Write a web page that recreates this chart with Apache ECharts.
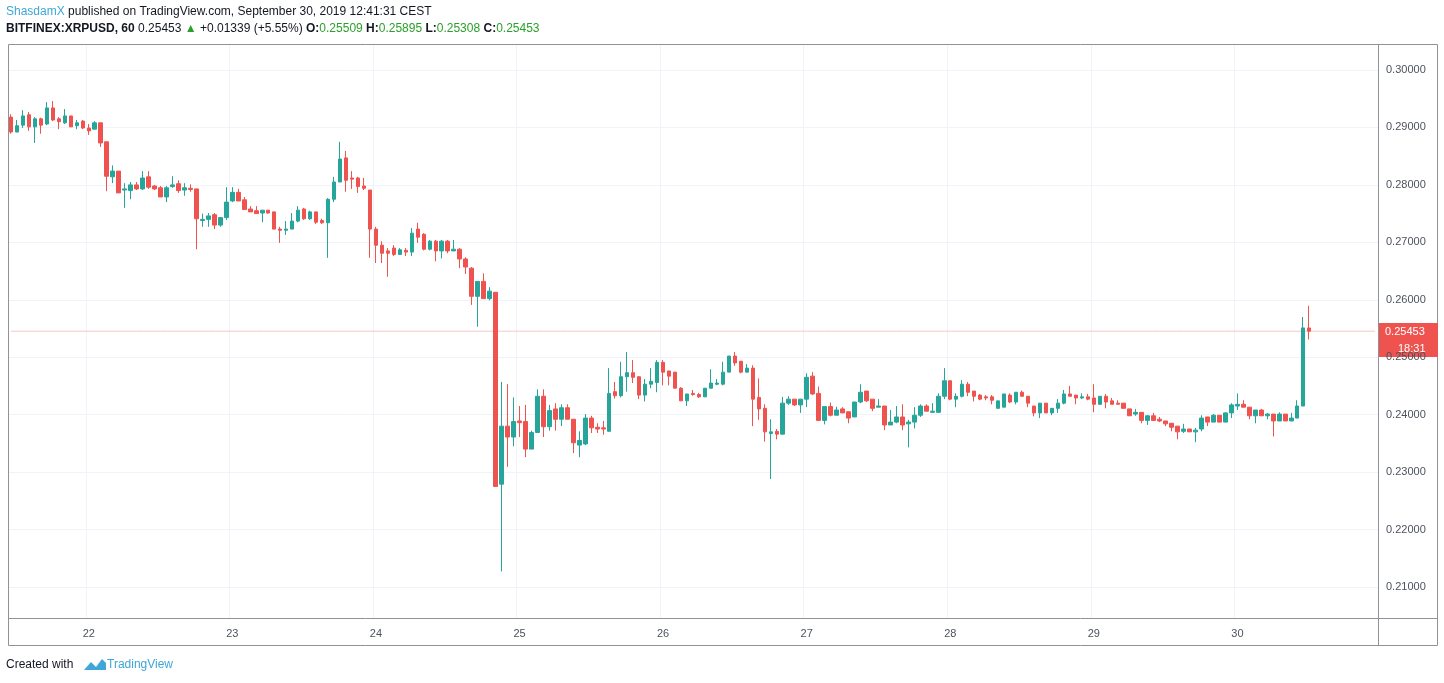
<!DOCTYPE html>
<html><head><meta charset="utf-8">
<script src="https://cdn.jsdelivr.net/npm/echarts@6/dist/echarts.min.js"></script>
<style>html,body{margin:0;padding:0;background:#fff}#c{width:1444px;height:683px}</style>
</head><body><div id="c"></div>
<script>
const opens=[.2918,.2892,.2904,.2922,.2901,.2915,.2906,.2934,.2915,.2908,.2920,.2903,.2911,.2899,.2897,.2908,.2875,.2814,.2824,.2791,.2790,.2800,.2793,.2814,.2798,.2795,.2779,.2797,.2802,.2791,.2794,.2793,.2738,.2740,.2748,.2730,.2743,.2772,.2787,.2774,.2758,.2755,.2751,.2756,.2753,.2723,.2721,.2723,.2737,.2758,.2741,.2753,.2738,.2734,.2775,.2805,.2847,.2812,.2812,.2798,.2791,.2723,.2695,.2685,.2690,.2679,.2686,.2683,.2723,.2714,.2688,.2702,.2685,.2702,.2685,.2688,.2671,.2655,.2606,.2632,.2602,.2613,.2279,.2380,.2361,.2389,.2388,.2340,.2369,.2432,.2379,.2410,.2392,.2412,.2392,.2347,.2349,.2394,.2378,.2377,.2371,.2440,.2433,.2466,.2473,.2466,.2434,.2453,.2456,.2491,.2476,.2474,.2446,.2424,.2437,.2435,.2431,.2446,.2453,.2453,.2474,.2502,.2493,.2474,.2481,.2430,.2411,.2367,.2371,.2366,.2420,.2427,.2417,.2427,.2467,.2437,.2390,.2414,.2399,.2410,.2405,.2396,.2422,.2441,.2427,.2413,.2415,.2382,.2387,.2396,.2384,.2387,.2399,.2415,.2404,.2404,.2432,.2459,.2427,.2432,.2453,.2441,.2434,.2431,.2431,.2411,.2413,.2434,.2422,.2439,.2432,.2415,.2403,.2420,.2403,.2411,.2420,.2436,.2434,.2429,.2431,.2429,.2418,.2432,.2424,.2420,.2420,.2410,.2401,.2404,.2390,.2398,.2392,.2389,.2385,.2380,.2371,.2375,.2370,.2375,.2396,.2387,.2399,.2387,.2403,.2415,.2418,.2413,.2398,.2408,.2398,.2401,.2389,.2401,.2389,.2394,.2415,.25509];
const closes=[.2892,.2903,.2920,.2901,.2915,.2904,.2934,.2913,.2910,.2920,.2901,.2908,.2899,.2894,.2908,.2873,.2815,.2824,.2786,.2793,.2800,.2793,.2812,.2796,.2793,.2779,.2795,.2800,.2790,.2795,.2792,.2741,.2740,.2746,.2730,.2743,.2770,.2787,.2772,.2757,.2753,.2750,.2756,.2751,.2723,.2721,.2723,.2737,.2756,.2741,.2753,.2735,.2734,.2775,.2805,.2845,.2808,.2810,.2797,.2794,.2723,.2695,.2681,.2681,.2679,.2687,.2683,.2716,.2709,.2688,.2702,.2685,.2702,.2685,.2688,.2671,.2657,.2606,.2632,.2602,.2615,.2275,.2380,.2361,.2388,.2386,.2340,.2369,.2432,.2379,.2407,.2392,.2412,.2392,.2351,.2355,.2394,.2377,.2375,.2375,.2437,.2433,.2466,.2473,.2465,.2434,.2453,.2458,.2491,.2474,.2467,.2446,.2424,.2436,.2435,.2431,.2446,.2455,.2455,.2474,.2502,.2490,.2474,.2481,.2427,.2410,.2370,.2370,.2366,.2420,.2427,.2417,.2427,.2465,.2436,.2390,.2414,.2399,.2408,.2403,.2394,.2422,.2439,.2424,.2411,.2415,.2382,.2387,.2396,.2382,.2387,.2399,.2415,.2406,.2406,.2432,.2459,.2427,.2432,.2453,.2439,.2432,.2427,.2429,.2425,.2424,.2436,.2422,.2439,.2432,.2420,.2403,.2420,.2403,.2411,.2420,.2436,.2432,.2429,.2431,.2427,.2418,.2432,.2422,.2418,.2418,.2411,.2398,.2404,.2390,.2398,.2390,.2389,.2384,.2378,.2370,.2375,.2370,.2373,.2394,.2387,.2399,.2387,.2403,.2417,.2418,.2413,.2398,.2408,.2398,.2401,.2389,.2401,.2389,.2394,.2415,.2551,.25453];
const lows=[.2889,.2892,.2899,.2894,.2873,.2889,.2904,.2911,.2897,.2906,.2901,.2897,.2897,.2887,.2897,.2866,.2789,.2803,.2786,.2760,.2775,.2791,.2791,.2793,.2791,.2779,.2770,.2795,.2786,.2781,.2788,.2688,.2727,.2727,.2723,.2727,.2739,.2770,.2772,.2757,.2753,.2750,.2735,.2750,.2723,.2699,.2713,.2723,.2735,.2739,.2739,.2732,.2732,.2673,.2770,.2805,.2788,.2793,.2786,.2791,.2673,.2664,.2664,.2640,.2676,.2678,.2676,.2676,.2699,.2686,.2686,.2667,.2672,.2681,.2686,.2655,.2645,.2591,.2553,.2602,.2599,.2274,.2127,.2309,.2345,.2361,.2326,.2340,.2369,.2361,.2372,.2372,.2380,.2392,.2333,.2326,.2347,.2368,.2368,.2365,.2371,.2428,.2430,.2440,.2455,.2427,.2423,.2446,.2439,.2451,.2451,.2446,.2424,.2415,.2433,.2429,.2431,.2446,.2451,.2451,.2474,.2485,.2472,.2479,.2380,.2391,.2353,.2288,.2357,.2366,.2417,.2415,.2403,.2413,.2434,.2390,.2383,.2397,.2406,.2406,.2385,.2396,.2420,.2422,.2406,.2413,.2373,.2382,.2385,.2373,.2343,.2376,.2396,.2406,.2403,.2403,.2427,.2425,.2413,.2430,.2432,.2423,.2425,.2425,.2418,.2411,.2413,.2420,.2418,.2432,.2413,.2397,.2394,.2403,.2399,.2403,.2418,.2432,.2418,.2427,.2425,.2404,.2418,.2411,.2418,.2418,.2411,.2398,.2398,.2385,.2382,.2390,.2387,.2380,.2371,.2357,.2368,.2370,.2352,.2371,.2380,.2387,.2387,.2387,.2394,.2408,.2413,.2392,.2385,.2398,.2392,.2362,.2389,.2389,.2389,.2394,.2415,.25308];
const highs=[.2923,.2913,.2930,.2927,.2918,.2917,.2944,.2946,.2918,.2932,.2920,.2913,.2913,.2906,.2911,.2908,.2875,.2834,.2824,.2803,.2805,.2805,.2824,.2824,.2800,.2798,.2798,.2815,.2808,.2803,.2801,.2793,.2750,.2751,.2751,.2743,.2796,.2796,.2793,.2779,.2763,.2763,.2756,.2756,.2753,.2727,.2737,.2751,.2763,.2760,.2755,.2753,.2741,.2777,.2814,.2875,.2859,.2824,.2814,.2812,.2791,.2727,.2702,.2690,.2695,.2690,.2690,.2725,.2734,.2716,.2704,.2704,.2704,.2704,.2704,.2690,.2674,.2657,.2608,.2646,.2622,.2613,.2457,.2453,.2430,.2415,.2417,.2372,.2444,.2444,.2417,.2420,.2418,.2418,.2392,.2371,.2401,.2398,.2385,.2389,.2481,.2457,.2492,.2509,.2495,.2466,.2462,.2481,.2495,.2495,.2476,.2474,.2448,.2436,.2443,.2438,.2446,.2479,.2462,.2492,.2502,.2509,.2493,.2488,.2486,.2463,.2418,.2392,.2375,.2431,.2432,.2427,.2417,.2472,.2474,.2449,.2414,.2421,.2414,.2413,.2405,.2422,.2453,.2441,.2427,.2427,.2415,.2408,.2415,.2418,.2391,.2413,.2418,.2418,.2420,.2437,.2481,.2459,.2437,.2460,.2457,.2441,.2436,.2434,.2434,.2424,.2436,.2437,.2439,.2442,.2432,.2415,.2420,.2420,.2411,.2427,.2443,.2450,.2434,.2437,.2436,.2453,.2432,.2436,.2429,.2425,.2420,.2410,.2410,.2404,.2399,.2403,.2396,.2389,.2385,.2380,.2384,.2375,.2377,.2399,.2396,.2401,.2399,.2404,.2420,.2437,.2425,.2413,.2408,.2410,.2403,.2401,.2404,.2401,.2403,.2425,.2570,.25895];
const lastPrice=0.25453;
const countdown='18:31';
const categories=[];
for(let i=0;i<229;i++){const t=i+11;categories.push({day:21+Math.floor(t/24),hour:t%24});}
const catNames=categories.map(c=>c.day+' '+String(c.hour).padStart(2,'0')+':00');
const kdata=opens.map((o,i)=>{const c=closes[i];return [o,c,Math.min(lows[i],o,c),Math.max(highs[i],o,c)];});
const priceLine=catNames.map(()=>lastPrice);
const isDay=(idx)=>categories[idx]&&categories[idx].hour===0;

const chart=echarts.init(document.getElementById('c'),null,{renderer:'canvas'});
const UP='#26a69a',DN='#ef5350';
chart.setOption({
  animation:false,
  textStyle:{fontFamily:'Liberation Sans, Arial, sans-serif'},
  grid:[
    {left:8,right:66,top:12.56,bottom:38.6},
    {left:8,right:66,top:44,bottom:65}
  ],
  xAxis:[
    {type:'category',gridIndex:0,data:catNames,boundaryGap:true,show:false},
    {type:'category',gridIndex:1,data:catNames,boundaryGap:true,
     axisLine:{show:false},axisTick:{show:false},
     axisLabel:{interval:(i)=>isDay(i),formatter:(v,i)=>String(categories[i].day),color:'#4c525e',fontSize:11,margin:10},
     splitLine:{show:true,interval:(i)=>isDay(i),lineStyle:{color:'#f0f3fa',width:1}}}
  ],
  yAxis:[
    {type:'value',gridIndex:0,position:'right',min:0.20,max:0.31,interval:0.01,
     axisLine:{show:false},axisTick:{show:false},
     axisLabel:{formatter:v=>v.toFixed(5),color:'#4c525e',fontSize:11,margin:8,showMinLabel:false,showMaxLabel:false},
     splitLine:{show:true,showMinLine:false,showMaxLine:false,lineStyle:{color:'#f0f3fa'}}},
    {type:'value',gridIndex:1,min:0,max:1,show:false}
  ],
  series:[
    {type:'line',xAxisIndex:0,yAxisIndex:0,data:priceLine,symbol:'none',silent:true,z:1,
     lineStyle:{color:'#f6c6c5',width:1}},
    {type:'candlestick',xAxisIndex:0,yAxisIndex:0,data:kdata,barWidth:4,z:3,
     itemStyle:{color:UP,color0:DN,borderColor:UP,borderColor0:DN,borderWidth:1}},
    {type:'line',xAxisIndex:1,yAxisIndex:1,data:[]}
  ]
});
const py=Math.round(chart.convertToPixel({yAxisIndex:0},lastPrice))+0.5;
const F='Liberation Sans, Arial, sans-serif';
chart.setOption({graphic:[
  {type:'rect',shape:{x:8.5,y:44.5,width:1429,height:601},style:{fill:'none',stroke:'#8f9297',lineWidth:1},silent:true},
  {type:'line',shape:{x1:8,y1:618.5,x2:1438,y2:618.5},style:{stroke:'#8f9297',lineWidth:1}},
  {type:'line',shape:{x1:1378.5,y1:44,x2:1378.5,y2:646},style:{stroke:'#8f9297',lineWidth:1}},
  {type:'rect',shape:{x:1379,y:py-8.5,width:59,height:17},style:{fill:DN}},
  {type:'text',x:1385,y:py,style:{text:lastPrice.toFixed(5),fill:'#fff',font:'11px '+F,verticalAlign:'middle'}},
  {type:'rect',shape:{x:1379,y:py+8.5,width:59,height:17},style:{fill:DN}},
  {type:'text',x:1398,y:py+17,style:{text:countdown,fill:'#fff',font:'11px '+F,verticalAlign:'middle'}},
  {type:'text',x:6,y:12,style:{verticalAlign:'middle',
    text:'{a|ShasdamX} {b|published on TradingView.com, September 30, 2019 12:41:31 CEST}',
    rich:{a:{fill:'#3ea6d8',font:'12px '+F},b:{fill:'#131722',font:'12px '+F}}}},
  {type:'text',x:6,y:29,style:{verticalAlign:'middle',
    text:'{k|BITFINEX:XRPUSD, 60} {b|0.25453} {g|▲} {b|+0.01339 (+5.55%)} {k|O:}{g|0.25509} {k|H:}{g|0.25895} {k|L:}{g|0.25308} {k|C:}{g|0.25453}',
    rich:{k:{fill:'#131722',font:'bold 12px '+F},b:{fill:'#131722',font:'12px '+F},g:{fill:'#2aa02a',font:'12px '+F}}}},
  {type:'text',x:6,y:665,style:{text:'Created with',fill:'#131722',font:'12px '+F,verticalAlign:'middle'}},
  {type:'polygon',shape:{points:[[84,670],[91,662],[96,667],[102,659],[106,663],[106,670]]},style:{fill:'#3ea6d8'}},
  {type:'text',x:107,y:665,style:{text:'TradingView',fill:'#3ea6d8',font:'12px '+F,verticalAlign:'middle'}}
]});
</script></body></html>
